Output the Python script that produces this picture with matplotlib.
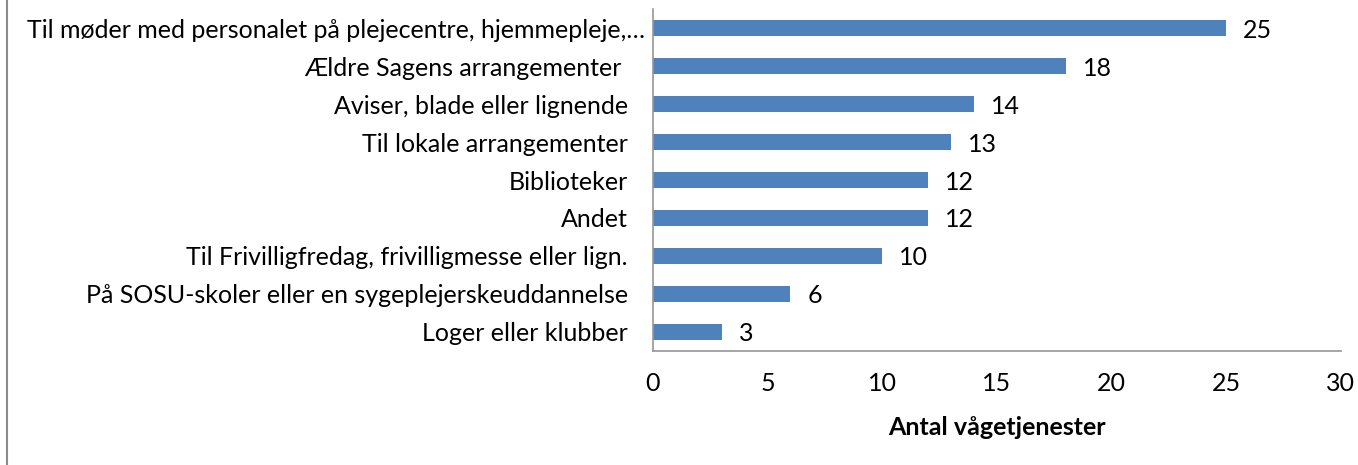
import matplotlib.pyplot as plt
from matplotlib.lines import Line2D

# ----------------------------------------------------
# Data
# ----------------------------------------------------
categories = [
    "Til møder med personalet på plejecentre, hjemmepleje,…",
    "Ældre Sagens arrangementer ",
    "Aviser, blade eller lignende",
    "Til lokale arrangementer",
    "Biblioteker",
    "Andet",
    "Til Frivilligfredag, frivilligmesse eller lign.",
    "På SOSU-skoler eller en sygeplejerskeuddannelse",
    "Loger eller klubber",
]
values = [25, 18, 14, 13, 12, 12, 10, 6, 3]
x_ticks = [0, 5, 10, 15, 20, 25, 30]
x_label = "Antal vågetjenester"

plt.rcParams["font.family"] = ["Lato", "DejaVu Sans"]
FS = 18

fig = plt.figure(figsize=(13.58, 4.65), dpi=100)
ax = fig.add_axes([0.4808, 0.2452, 0.5064, 0.7354])

ypos = list(range(len(categories)))[::-1]
ax.barh(ypos, values, height=0.42, color="#4F81BD")

for y, v in zip(ypos, values):
    ax.text(v + 0.75, y, str(v), va="center_baseline", ha="left", fontsize=FS)

ax.set_xlim(0, 30)
ax.set_ylim(-0.5, len(categories) - 0.5)
ax.set_xticks(x_ticks)
ax.set_yticks(ypos)
# the first (truncated) label overflows closer to the axis, draw it separately
ax.set_yticklabels([""] + categories[1:], fontsize=FS)
ax.annotate(categories[0], xy=(0, ypos[0]), xycoords=ax.get_yaxis_transform(),
            xytext=(-6, 0), textcoords="offset points",
            ha="right", va="center_baseline", fontsize=FS)
ax.tick_params(axis="y", length=0, pad=18)
ax.tick_params(axis="x", length=0, pad=15, labelsize=FS)
ax.set_xlabel(x_label, fontsize=FS, fontweight="bold", labelpad=15)

for s in ["top", "right"]:
    ax.spines[s].set_visible(False)
for s in ["left", "bottom"]:
    ax.spines[s].set_color("#969696")
    ax.spines[s].set_linewidth(1.2)

# outer chart border on the left
fig.add_artist(Line2D([7 / 1358, 7 / 1358], [0, 1], color="#8c8c8c", lw=1.5))

fig.savefig("out.png", dpi=100)
